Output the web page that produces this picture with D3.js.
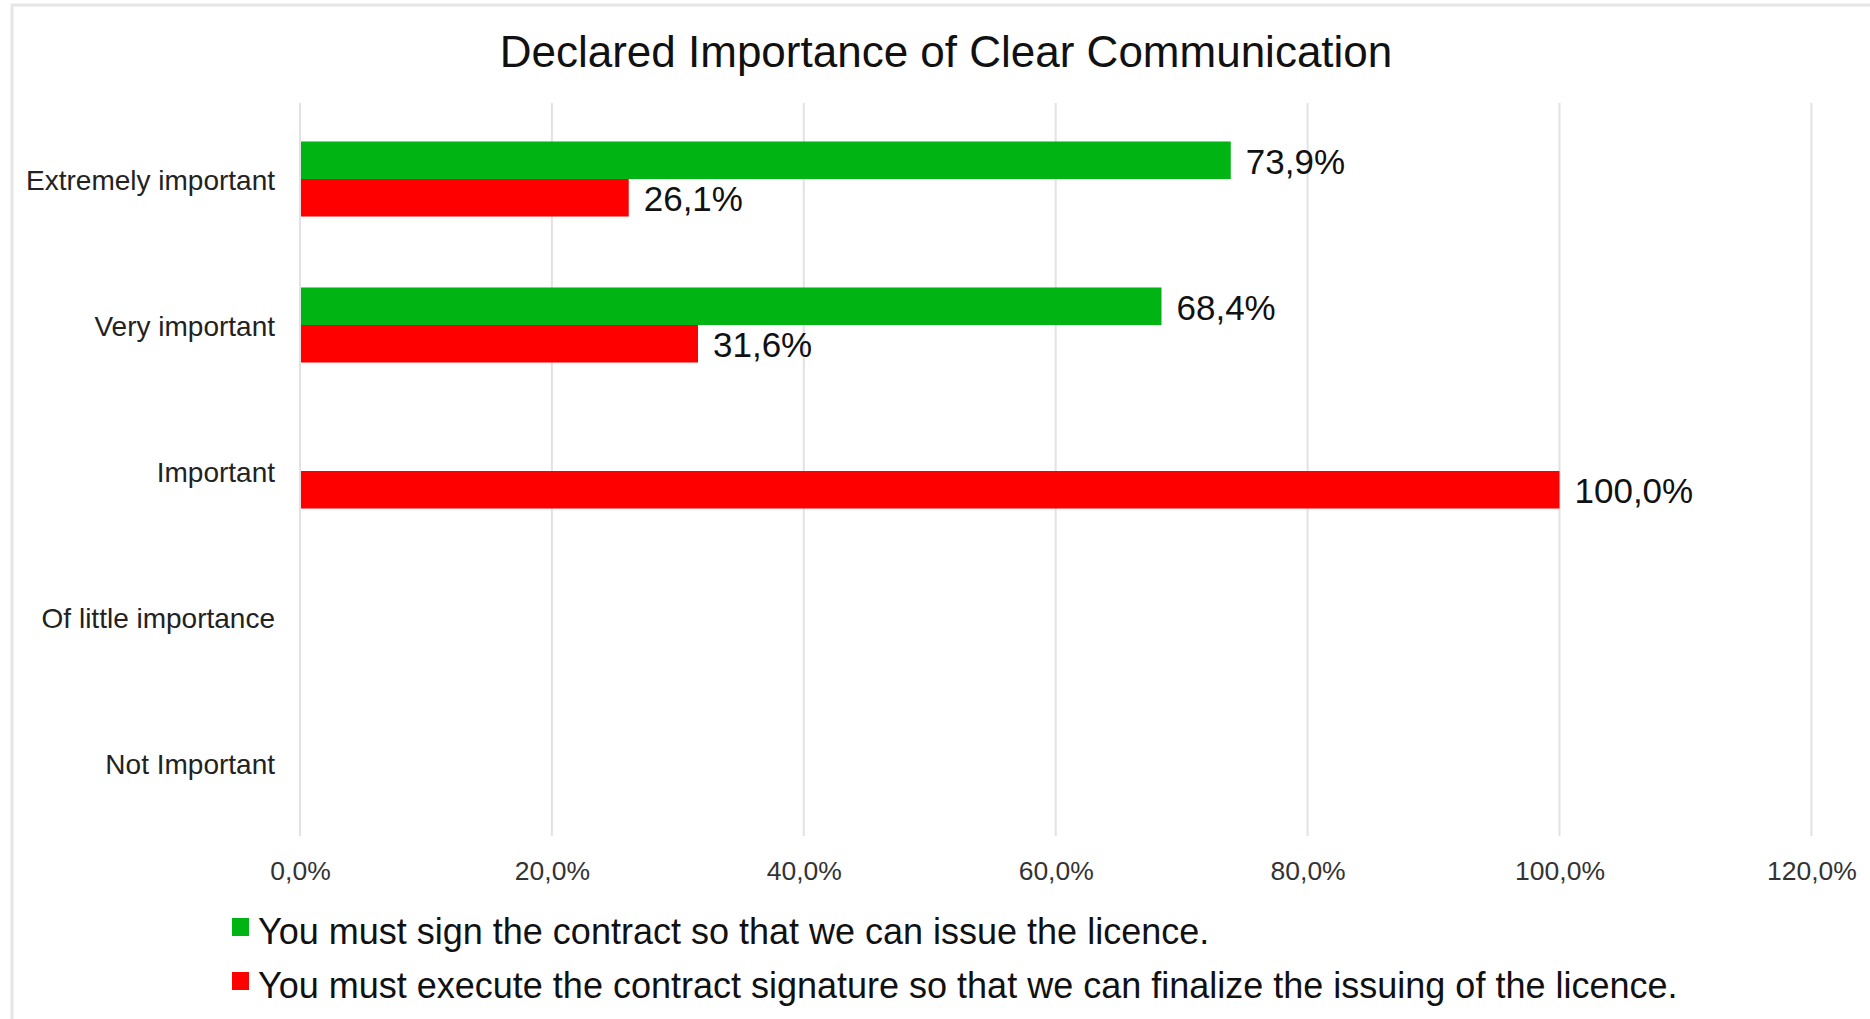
<!DOCTYPE html>
<html>
<head>
<meta charset="utf-8">
<script src="https://cdn.jsdelivr.net/npm/d3@7"></script>
<style>
  html, body { margin: 0; padding: 0; background: #fff; }
  svg { display: block; font-family: "Liberation Sans", Arial, Helvetica, sans-serif; }
</style>
</head>
<body>
<svg id="chart" width="1870" height="1019"></svg>
<script>
// ---- data ----
const categories = ["Extremely important", "Very important", "Important", "Of little importance", "Not Important"];
const seriesNames = [
  "You must sign the contract so that we can issue the licence.",
  "You must execute the contract signature so that we can finalize the issuing of the licence."
];
const signValues    = [73.9, 68.4, 0, null, null];
const executeValues = [26.1, 31.6, 100.0, null, null];
const xTicks = [0, 20, 40, 60, 80, 100, 120];
const chartTitle = "Declared Importance of Clear Communication";
const seriesColors = ["#00b414", "#ff0000"];

// ---- layout ----
const svg = d3.select("#chart");
const W = 1870, H = 1019;
const fmt = v => v.toFixed(1).replace(".", ",") + "%";

// frame
svg.append("rect").attr("x", 12).attr("y", 5).attr("width", W + 20).attr("height", H + 20)
  .attr("fill", "#fff").attr("stroke", "#e6e6e6").attr("stroke-width", 3);

const x = d3.scaleLinear().domain([0, 120]).range([300, 1811.4]);
const y = d3.scaleBand().domain(categories).range([106, 836]).paddingInner(0.486).paddingOuter(0.243);
const sub = d3.scaleBand().domain([0, 1]).range([0, y.bandwidth()]);

// title
svg.append("text").attr("x", 946).attr("y", 67).attr("text-anchor", "middle")
  .attr("font-size", 44).attr("fill", "#111").text(chartTitle);

// gridlines
svg.append("g").selectAll("line").data(xTicks).join("line")
  .attr("x1", d => x(d)).attr("x2", d => x(d))
  .attr("y1", 103).attr("y2", 836)
  .attr("stroke", "#e2e2e2").attr("stroke-width", 2);

// x axis tick labels
const xAxis = d3.axisBottom(x).tickValues(xTicks).tickFormat(fmt).tickSize(0).tickPadding(0);
const gx = svg.append("g").attr("transform", "translate(0,861)").call(xAxis);
gx.select(".domain").remove();
gx.selectAll("text").attr("font-size", 26.5).attr("fill", "#333")
  .attr("font-family", "'Liberation Sans', Arial, sans-serif");

// y axis category labels
const yAxis = d3.axisLeft(y).tickSize(0).tickPadding(0);
const gy = svg.append("g").attr("transform", "translate(275,2)").call(yAxis);
gy.select(".domain").remove();
gy.selectAll("text").attr("font-size", 28).attr("fill", "#222")
  .attr("font-family", "'Liberation Sans', Arial, sans-serif");

// bars
const seriesVals = [signValues, executeValues];
seriesVals.forEach((vals, si) => {
  const g = svg.append("g");
  const data = categories.map((c, i) => ({ c, v: vals[i] })).filter(d => d.v !== null);
  g.selectAll("rect").data(data.filter(d => d.v > 0)).join("rect")
    .attr("x", x(0) + 1)
    .attr("y", d => y(d.c) + sub(si))
    .attr("width", d => x(d.v) - x(0) - 1)
    .attr("height", sub.bandwidth())
    .attr("fill", seriesColors[si]);
  g.selectAll("text").data(data.filter(d => d.v > 0)).join("text")
    .attr("x", d => x(d.v) + 15)
    .attr("y", d => y(d.c) + sub(si) + sub.bandwidth() / 2)
    .attr("dy", "0.38em")
    .attr("font-size", 35).attr("fill", "#111")
    .text(d => fmt(d.v));
});

// legend
const legend = svg.append("g");
seriesNames.forEach((name, i) => {
  const ly = 918 + i * 54;
  legend.append("rect").attr("x", 232).attr("y", ly).attr("width", 17).attr("height", 18)
    .attr("fill", seriesColors[i]);
  legend.append("text").attr("x", 258).attr("y", ly + 26)
    .attr("font-size", 36).attr("fill", "#111").text(name);
});
</script>
</body>
</html>
